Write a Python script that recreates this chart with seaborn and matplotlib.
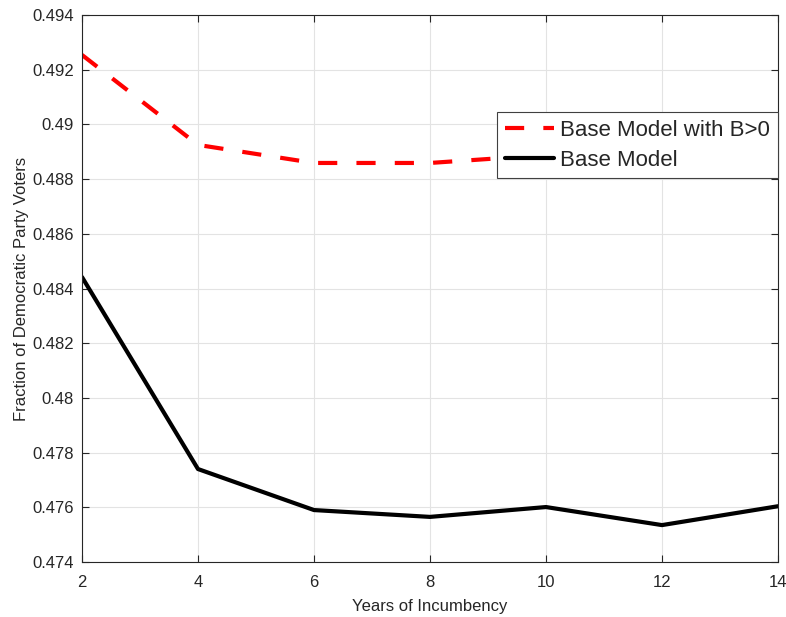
import pandas as pd
import matplotlib
matplotlib.use("Agg")
import matplotlib.pyplot as plt
import seaborn as sns

# values
years = [2, 4, 6, 8, 10, 12, 14]
base_b_pos = [0.49254, 0.48925, 0.48859, 0.48859, 0.48888, 0.48875, 0.48890]
base_model = [0.48442, 0.47740, 0.47590, 0.47565, 0.47601, 0.47535, 0.47604]
y_ticks = [0.474, 0.476, 0.478, 0.48, 0.482, 0.484, 0.486, 0.488, 0.49, 0.492, 0.494]
y_tick_labels = ["0.474", "0.476", "0.478", "0.48", "0.482", "0.484",
                 "0.486", "0.488", "0.49", "0.492", "0.494"]

df = pd.DataFrame({
    "years": years * 2,
    "value": base_b_pos + base_model,
    "series": ["Base Model with B>0"] * len(years) + ["Base Model"] * len(years),
})

sns.set_style("whitegrid")
plt.rcParams["font.family"] = ["Liberation Sans", "DejaVu Sans"]

fig = plt.figure(figsize=(7.86, 6.17), dpi=100)
ax = fig.add_axes([0.1043, 0.0891, 0.8855, 0.8866])

sns.lineplot(data=df[df.series == "Base Model with B>0"], x="years", y="value",
             ax=ax, color="#ff0000", linewidth=3, label="Base Model with B>0")
ax.lines[-1].set_linestyle((0, (4.6, 4.6)))
sns.lineplot(data=df[df.series == "Base Model"], x="years", y="value",
             ax=ax, color="black", linewidth=3, label="Base Model")

ax.set_xlim(2, 14)
ax.set_ylim(0.474, 0.494)
ax.set_xticks(years)
ax.set_yticks(y_ticks)
ax.set_yticklabels(y_tick_labels)
ax.set_xlabel("Years of Incumbency", fontsize=12, color="#262626", labelpad=7)
ax.set_ylabel("Fraction of Democratic Party Voters", fontsize=12, color="#262626", labelpad=2)

ax.grid(True, color="#e3e3e3", linewidth=0.8)
ax.tick_params(axis="both", direction="in", length=5, labelsize=12,
               colors="#262626", top=True, right=True, bottom=True, left=True,
               labeltop=False, labelright=False)
ax.tick_params(axis="x", pad=9)
ax.tick_params(axis="y", pad=6)
for s in ax.spines.values():
    s.set_visible(True)
    s.set_color("#262626")
    s.set_linewidth(0.8)

leg = ax.legend(loc="upper right", bbox_to_anchor=(1.0, 0.8227), fontsize=16,
                frameon=True, fancybox=False, framealpha=1, edgecolor="#404040",
                handlelength=2.2, handletextpad=0.28, borderpad=0.35,
                labelspacing=0.4, borderaxespad=0)
leg.get_frame().set_linewidth(0.8)

fig.savefig("out.png", dpi=100)
